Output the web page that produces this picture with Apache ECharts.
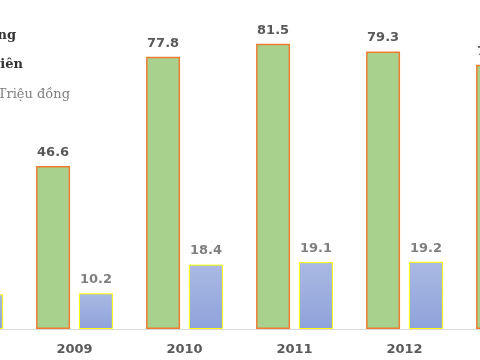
<!DOCTYPE html>
<html>
<head>
<meta charset="utf-8">
<script src="https://cdn.jsdelivr.net/npm/echarts@6/dist/echarts.min.js"></script>
<style>html,body{margin:0;padding:0;background:#fff;}#c{width:480px;height:360px;}</style>
</head>
<body>
<div id="c"></div>
<script>
var years = ['2008', '2009', '2010', '2011', '2012', '2013'];
var greenValues = [38.5, 46.6, 77.8, 81.5, 79.3, 75.5];
var blueValues = [9.9, 10.2, 18.4, 19.1, 19.2, 17.0];
var legendLines = ['Năng suất lao động', 'Thu nhập bình quân nhân viên', 'Triệu đồng'];

function fmt(p) { return p.value.toFixed(1); }

var chart = echarts.init(document.getElementById('c'), null, {renderer: 'canvas'});
chart.setOption({
  animation: false,
  backgroundColor: '#ffffff',
  grid: {left: -90.5, right: -89.5, top: -21, bottom: 31, containLabel: false, outerBoundsMode: 'none'},
  xAxis: {
    type: 'category',
    data: years,
    axisLine: {lineStyle: {color: '#d9d9d9', width: 1}},
    axisTick: {show: false},
    axisLabel: {color: '#595959', fontFamily: 'DejaVu Sans', fontWeight: 'bold', fontSize: 13, margin: 14}
  },
  yAxis: {type: 'value', min: 0, max: 100, show: false, splitLine: {show: false}},
  series: [
    {
      name: legendLines[0], type: 'bar', data: greenValues, barWidth: 34, barGap: '26%',
      itemStyle: {color: '#a9d18e', borderColor: '#ed7d31', borderWidth: 1.5},
      label: {show: true, position: 'top', distance: 7, formatter: fmt, color: '#595959', fontFamily: 'DejaVu Sans', fontWeight: 'bold', fontSize: 13}
    },
    {
      name: legendLines[1], type: 'bar', data: blueValues, barWidth: 34,
      itemStyle: {
        color: new echarts.graphic.LinearGradient(0, 0, 0, 1, [{offset: 0, color: '#aab9e4'}, {offset: 1, color: '#8ea3db'}]),
        borderColor: '#ffff00', borderWidth: 1
      },
      label: {show: true, position: 'top', distance: 7, formatter: fmt, color: '#7f7f7f', fontFamily: 'DejaVu Sans', fontWeight: 'bold', fontSize: 13}
    }
  ],
  graphic: [
    {type: 'text', right: 464, top: 29, style: {text: legendLines[0], font: 'bold 13px "DejaVu Serif"', fill: '#333333'}},
    {type: 'text', right: 457, top: 58, style: {text: legendLines[1], font: 'bold 13px "DejaVu Serif"', fill: '#333333'}},
    {type: 'text', right: 410, top: 88, style: {text: legendLines[2], font: '13px "DejaVu Serif"', fill: '#7f7f7f'}}
  ]
});
</script>
</body>
</html>
